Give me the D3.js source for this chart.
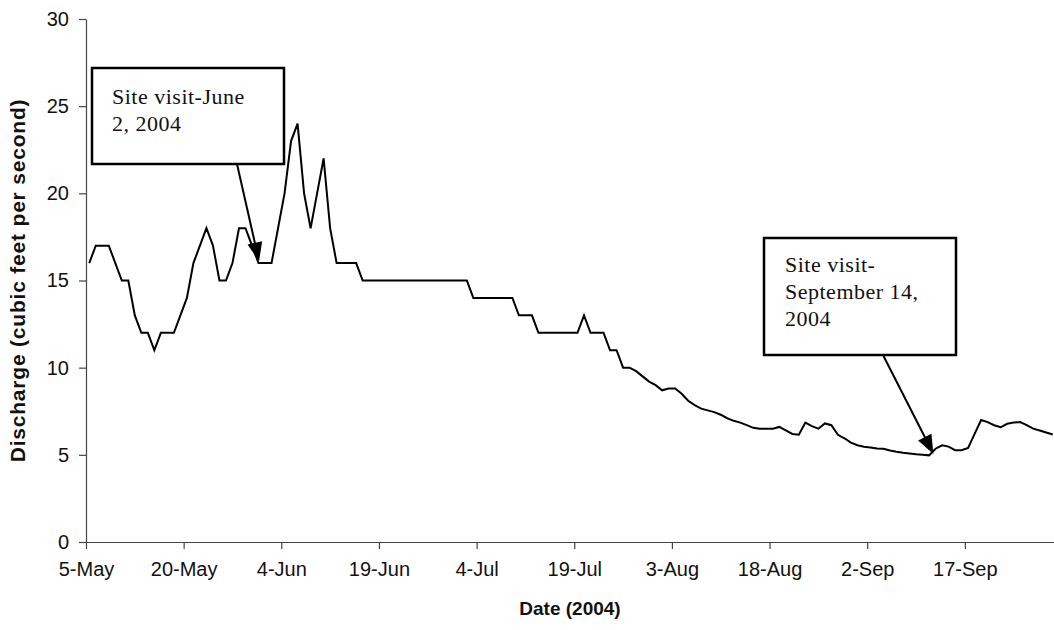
<!DOCTYPE html>
<html>
<head>
<meta charset="utf-8">
<script src="https://cdn.jsdelivr.net/npm/d3@7"></script>
<style>
  html, body { margin: 0; padding: 0; background: #fff; }
  svg { display: block; }
</style>
</head>
<body>
<svg id="chart" width="1054" height="630"></svg>
<script>
// ---------------- DATA ----------------
const startDate = "2004-05-05"; // first daily value
const discharge = [
  16, 17, 17, 17, 16, 15, 15, 13, 12, 12,          // May 5 - May 14
  11, 12, 12, 12, 13, 14, 16, 17, 18, 17,          // May 15 - May 24
  15, 15, 16, 18, 18, 17, 16, 16, 16, 18,          // May 25 - Jun 3
  20, 23, 24, 20, 18, 20, 22, 18, 16, 16,          // Jun 4 - Jun 13
  16, 16, 15, 15, 15, 15, 15, 15, 15, 15,          // Jun 14 - Jun 23
  15, 15, 15, 15, 15, 15, 15, 15, 15, 14,          // Jun 24 - Jul 3
  14, 14, 14, 14, 14, 14, 13, 13, 13, 12,          // Jul 4 - Jul 13
  12, 12, 12, 12, 12, 12, 13, 12, 12, 12,          // Jul 14 - Jul 23
  11, 11, 10, 10, 9.8, 9.5, 9.2, 9.0, 8.7, 8.8,    // Jul 24 - Aug 2
  8.8, 8.5, 8.1, 7.85, 7.65, 7.55, 7.45, 7.3, 7.1, 6.95, // Aug 3 - Aug 12
  6.85, 6.7, 6.55, 6.5, 6.5, 6.5, 6.6, 6.4, 6.2, 6.15,   // Aug 13 - Aug 22
  6.85, 6.65, 6.5, 6.8, 6.7, 6.15, 5.95, 5.7, 5.55, 5.47, // Aug 23 - Sep 1
  5.42, 5.37, 5.35, 5.25, 5.18, 5.12, 5.08, 5.03, 5.0, 4.97, // Sep 2 - Sep 11
  5.35, 5.55, 5.47, 5.27, 5.27, 5.4, 6.2, 7.0, 6.88, 6.7,    // Sep 12 - Sep 21
  6.58, 6.78, 6.85, 6.88, 6.7, 6.5, 6.4, 6.28, 6.17          // Sep 22 - Sep 30
];
const axisStart = "2004-05-05";
const axisEnd = "2004-10-01";
const xTickDates = ["2004-05-05","2004-05-20","2004-06-04","2004-06-19","2004-07-04",
                    "2004-07-19","2004-08-03","2004-08-18","2004-09-02","2004-09-17"];
const yTicks = [0, 5, 10, 15, 20, 25, 30];
const yTitle = "Discharge (cubic feet per second)";
const xTitle = "Date (2004)";
const noteTexts = [
  ["Site visit-June", "2, 2004"],
  ["Site visit-", "September 14,", "2004"]
];
// arrow tips in data space (day offset from start, discharge)
const noteTipDays = [26.1, 129.7];
const noteTipValues = [16.1, 5.05];

// ---------------- LAYOUT ----------------
const svg = d3.select("#chart");
const plot = { left: 86, top: 19, bottom: 542, dayW: 6.51 };
const parse = d3.timeParse("%Y-%m-%d");
const t0 = parse(axisStart), t1 = parse(axisEnd);
const nDays = d3.timeDay.count(t0, t1);
const x = d3.scaleTime().domain([t0, t1]).range([plot.left, plot.left + nDays * plot.dayW]);
const y = d3.scaleLinear().domain([0, 30]).range([plot.bottom, plot.top]);

const s0 = parse(startDate);
const points = discharge.map((v, i) => ({ date: d3.timeHour.offset(d3.timeDay.offset(s0, i), 12), v }));

// axes
const xAxis = d3.axisBottom(x)
  .tickValues(xTickDates.map(parse))
  .tickFormat(d3.timeFormat("%-d-%b"))
  .tickSizeInner(7).tickSizeOuter(0).tickPadding(8);
const gx = svg.append("g").attr("transform", `translate(0,${plot.bottom})`).call(xAxis);
gx.select(".domain").attr("stroke", "#444").attr("stroke-width", 1.2);
gx.selectAll(".tick line").attr("stroke", "#444").attr("stroke-width", 1.2);
gx.selectAll(".tick text")
  .attr("font-family", "'Liberation Sans', Arial, sans-serif")
  .attr("font-size", 20).attr("fill", "#111")
  .attr("dy", "0.95em");

const yAxis = d3.axisLeft(y).tickValues(yTicks).tickSizeInner(7).tickSizeOuter(0).tickPadding(10);
const gy = svg.append("g").attr("transform", `translate(${plot.left},0)`).call(yAxis);
gy.select(".domain").attr("stroke", "#444").attr("stroke-width", 1.2);
gy.selectAll(".tick line").attr("stroke", "#444").attr("stroke-width", 1.2);
gy.selectAll(".tick text")
  .attr("font-family", "'Liberation Sans', Arial, sans-serif")
  .attr("font-size", 20).attr("fill", "#111");

// titles
svg.append("text")
  .attr("transform", `translate(25,${(plot.top + plot.bottom) / 2}) rotate(-90)`)
  .attr("text-anchor", "middle")
  .attr("font-family", "'Liberation Sans', Arial, sans-serif")
  .attr("font-weight", "bold").attr("font-size", 21).attr("letter-spacing", 0.8).attr("fill", "#111")
  .text(yTitle);
svg.append("text")
  .attr("x", 570).attr("y", 615)
  .attr("text-anchor", "middle")
  .attr("font-family", "'Liberation Sans', Arial, sans-serif")
  .attr("font-weight", "bold").attr("font-size", 19).attr("fill", "#111")
  .text(xTitle);

// line
const line = d3.line().x(d => x(d.date)).y(d => y(d.v));
svg.append("path").datum(points)
  .attr("d", line).attr("fill", "none")
  .attr("stroke", "#000").attr("stroke-width", 2).attr("stroke-linejoin", "miter");

// annotations
const boxes = [
  { x: 92, y: 68, w: 192, h: 96, tx: 112, ty: 104, tail: [237, 164] },
  { x: 764, y: 238, w: 192, h: 117, tx: 785, ty: 272, tail: [883, 355] }
];
const headLen = 19, headHalf = 7.5;
boxes.forEach((b, i) => {
  const tip = [x(d3.timeHour.offset(s0, noteTipDays[i] * 24 + 12)), y(noteTipValues[i])];
  const dx = tip[0] - b.tail[0], dy = tip[1] - b.tail[1];
  const len = Math.hypot(dx, dy), ux = dx / len, uy = dy / len;
  const base = [tip[0] - ux * headLen, tip[1] - uy * headLen];
  svg.append("line")
    .attr("x1", b.tail[0]).attr("y1", b.tail[1]).attr("x2", base[0] + ux * 2).attr("y2", base[1] + uy * 2)
    .attr("stroke", "#000").attr("stroke-width", 2);
  svg.append("path")
    .attr("d", `M${tip[0]},${tip[1]} L${base[0] - uy * headHalf},${base[1] + ux * headHalf} L${base[0] + uy * headHalf},${base[1] - ux * headHalf} Z`)
    .attr("fill", "#000");
  svg.append("rect").attr("x", b.x).attr("y", b.y).attr("width", b.w).attr("height", b.h)
    .attr("fill", "#fff").attr("stroke", "#000").attr("stroke-width", 2.5);
  const t = svg.append("text")
    .attr("font-family", "'Liberation Serif', 'Times New Roman', serif")
    .attr("font-size", 22).attr("letter-spacing", 0.5).attr("fill", "#111");
  noteTexts[i].forEach((s, k) => {
    t.append("tspan").attr("x", b.tx).attr("y", b.ty + k * 27).text(s);
  });
});
</script>
</body>
</html>
